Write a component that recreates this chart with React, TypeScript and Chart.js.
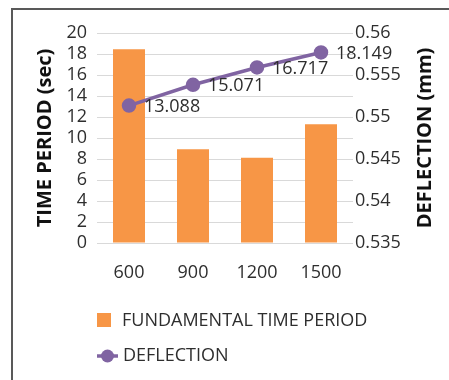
import React, { useEffect, useRef } from "react";
import { Chart, registerables } from "chart.js";

Chart.register(...registerables);

// Storey heights / time period / deflection data
const categories = ["600", "900", "1200", "1500"];
const timePeriod = [18.45, 8.92, 8.12, 11.3];
const deflection = [13.088, 15.071, 16.717, 18.149];
const timeTicks = [0, 2, 4, 6, 8, 10, 12, 14, 16, 18, 20];
const deflectionTicks = [0.535, 0.54, 0.545, 0.55, 0.555, 0.56];

const barLabel = "FUNDAMENTAL TIME PERIOD";
const lineLabel = "DEFLECTION";
const leftTitle = "TIME PERIOD (sec)";
const rightTitle = "DEFLECTION (mm)";

const ORANGE = "#F79646";
const PURPLE = "#8064A2";
const TEXT = "#2e2e2e";
const FONT = "'Open Sans', 'Liberation Sans', sans-serif";

const decorations = {
  id: "decorations",
  afterDraw(chart: any) {
    const ctx = chart.ctx as CanvasRenderingContext2D;
    const area = chart.chartArea;
    ctx.save();

    // outer frame
    ctx.strokeStyle = "#595959";
    ctx.lineWidth = 2;
    ctx.strokeRect(12, 9, 460, 400);

    // value labels beside the line points
    const meta = chart.getDatasetMeta(1);
    ctx.fillStyle = TEXT;
    ctx.font = `18px ${FONT}`;
    ctx.textAlign = "left";
    ctx.textBaseline = "middle";
    meta.data.forEach((pt: any, i: number) => {
      ctx.fillText(deflection[i].toFixed(3), pt.x + 15, pt.y + 1);
    });

    // rotated axis titles, reading bottom to top
    const midY = (area.top + area.bottom) / 2;
    ctx.font = `bold 20px ${FONT}`;
    ctx.fillStyle = "#111";
    ctx.textAlign = "center";
    [
      [45, leftTitle],
      [425, rightTitle],
    ].forEach(([x, t]) => {
      ctx.save();
      ctx.translate(x as number, midY);
      ctx.rotate(-Math.PI / 2);
      ctx.fillText(t as string, 0, 0);
      ctx.restore();
    });

    // legend
    ctx.font = `18px ${FONT}`;
    ctx.textAlign = "left";
    ctx.textBaseline = "middle";
    ctx.fillStyle = ORANGE;
    ctx.fillRect(97, 313, 14, 14);
    ctx.fillStyle = TEXT;
    ctx.fillText(barLabel, 122, 321);

    ctx.strokeStyle = PURPLE;
    ctx.lineWidth = 3.5;
    ctx.beginPath();
    ctx.moveTo(97, 356);
    ctx.lineTo(118, 356);
    ctx.stroke();
    ctx.fillStyle = PURPLE;
    ctx.beginPath();
    ctx.arc(107.5, 356, 6.5, 0, Math.PI * 2);
    ctx.fill();
    ctx.fillStyle = TEXT;
    ctx.fillText(lineLabel, 123, 356);

    ctx.restore();
  },
};

export default function App() {
  const canvasRef = useRef<HTMLCanvasElement | null>(null);

  useEffect(() => {
    const canvas = canvasRef.current;
    if (!canvas) return;
    const chart = new Chart(canvas, {
      type: "bar",
      data: {
        labels: categories,
        datasets: [
          {
            type: "bar",
            label: barLabel,
            data: timePeriod,
            backgroundColor: ORANGE,
            yAxisID: "y",
            barPercentage: 0.5,
            categoryPercentage: 1,
            order: 2,
          },
          {
            type: "line",
            label: lineLabel,
            data: deflection,
            borderColor: PURPLE,
            backgroundColor: PURPLE,
            borderWidth: 3.5,
            pointRadius: 5.5,
            pointHoverRadius: 5.5,
            yAxisID: "y",
            order: 1,
          } as any,
        ],
      },
      options: {
        responsive: false,
        animation: false,
        layout: { padding: { top: 33, left: 0, right: 0, bottom: 0 } },
        plugins: {
          legend: { display: false },
          tooltip: { enabled: false },
        },
        scales: {
          x: {
            grid: { display: false, drawTicks: false },
            border: { display: false },
            ticks: { color: TEXT, font: { family: FONT, size: 18 }, padding: 19 },
            afterFit: (s: any) => {
              s.height = 137;
            },
          },
          y: {
            position: "left",
            min: timeTicks[0],
            max: timeTicks[timeTicks.length - 1],
            grid: { color: "#d9d9d9", lineWidth: 1, drawTicks: false },
            border: { display: false },
            ticks: {
              stepSize: timeTicks[1] - timeTicks[0],
              autoSkip: false,
              color: TEXT,
              font: { family: FONT, size: 18 },
              padding: 10,
            },
            afterFit: (s: any) => {
              s.width = 97;
            },
          },
          y1: {
            position: "right",
            min: deflectionTicks[0],
            max: deflectionTicks[deflectionTicks.length - 1],
            grid: { display: false, drawTicks: false },
            border: { display: false },
            ticks: {
              stepSize: 0.005,
              autoSkip: false,
              color: TEXT,
              font: { family: FONT, size: 18 },
              padding: 2,
              callback: (v: any) => String(Number(Number(v).toFixed(3))),
            },
            afterFit: (s: any) => {
              s.width = 96;
            },
          },
        },
      },
      plugins: [decorations],
    });
    document.fonts?.ready.then(() => chart.update());
    return () => chart.destroy();
  }, []);

  return (
    <div style={{ position: "absolute", left: 0, top: 0, width: 449, height: 380, background: "#fff" }}>
      <canvas ref={canvasRef} width={449} height={380} />
    </div>
  );
}
